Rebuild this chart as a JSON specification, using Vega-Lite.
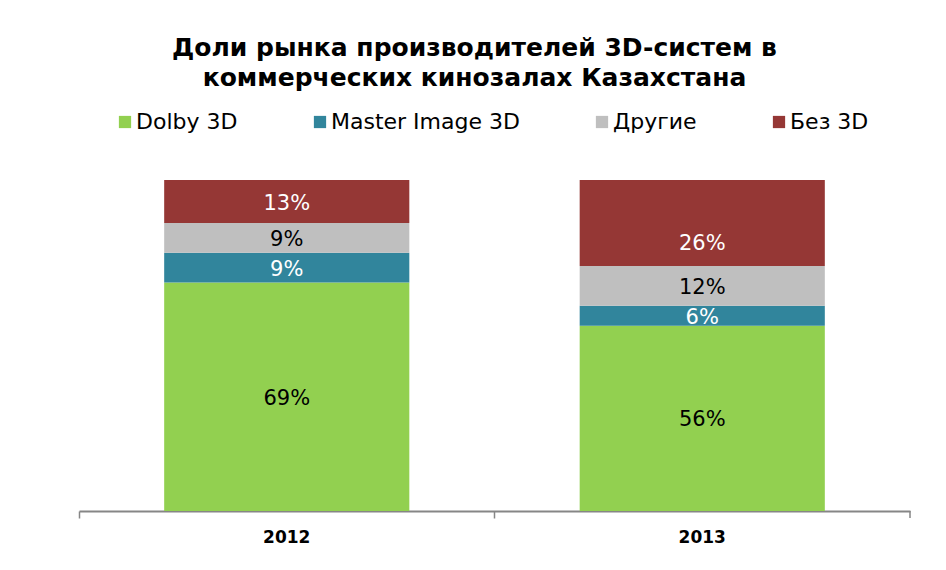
{
  "$schema": "https://vega.github.io/schema/vega-lite/v6.json",
  "width": 831,
  "height": 331,
  "autosize": {"type": "none"},
  "padding": {"left": 79, "top": 180, "right": 36, "bottom": 59},
  "background": "white",
  "title": {
    "text": ["Доли рынка производителей 3D-систем в", "коммерческих кинозалах Казахстана"],
    "font": "DejaVu Sans",
    "fontSize": 25,
    "fontWeight": "bold",
    "color": "black",
    "lineHeight": 30,
    "anchor": "middle",
    "dx": -20,
    "offset": 20
  },
  "data": {
    "values": [
      {"year": "2012", "series": "Dolby 3D", "value": 69, "ord": 1},
      {"year": "2012", "series": "Master Image 3D", "value": 9, "ord": 2},
      {"year": "2012", "series": "Другие", "value": 9, "ord": 3},
      {"year": "2012", "series": "Без 3D", "value": 13, "ord": 4},
      {"year": "2013", "series": "Dolby 3D", "value": 56, "ord": 1},
      {"year": "2013", "series": "Master Image 3D", "value": 6, "ord": 2},
      {"year": "2013", "series": "Другие", "value": 12, "ord": 3},
      {"year": "2013", "series": "Без 3D", "value": 26, "ord": 4}
    ]
  },
  "transform": [
    {"stack": "value", "groupby": ["year"], "sort": [{"field": "ord", "order": "ascending"}], "as": ["v0", "v1"]},
    {"calculate": "(datum.v0 + datum.v1) / 2", "as": "mid"},
    {"calculate": "datum.value + '%'", "as": "label"}
  ],
  "encoding": {
    "x": {
      "field": "year",
      "type": "nominal",
      "title": null,
      "scale": {"paddingInner": 0, "paddingOuter": 0},
      "axis": {
        "bandPosition": 0,
        "labelAngle": 0,
        "labelFont": "DejaVu Sans",
        "labelFontWeight": "bold",
        "labelFontSize": 17,
        "labelColor": "black",
        "labelPadding": 11,
        "domainColor": "#868686",
        "domainWidth": 2,
        "tickColor": "#868686",
        "tickWidth": 1.5,
        "tickSize": 7,
        "grid": false
      }
    }
  },
  "layer": [
    {
      "mark": {"type": "bar", "width": {"band": 0.59}},
      "encoding": {
        "y": {"field": "v0", "type": "quantitative", "scale": {"domain": [0, 100]}, "axis": null},
        "y2": {"field": "v1"},
        "color": {
          "field": "series",
          "type": "nominal",
          "scale": {
            "domain": ["Dolby 3D", "Master Image 3D", "Другие", "Без 3D"],
            "range": ["#92D050", "#31859C", "#BFBFBF", "#953735"]
          },
          "legend": {
            "title": null,
            "orient": "none",
            "direction": "horizontal",
            "legendX": 35,
            "legendY": -69,
            "symbolType": "square",
            "symbolSize": 150,
            "symbolStrokeWidth": 0,
            "symbolOpacity": 1,
            "labelFont": "DejaVu Sans",
            "labelFontSize": 22,
            "labelColor": "black",
            "labelLimit": 400,
            "labelOffset": 0,
            "columnPadding": 71
          }
        }
      }
    },
    {
      "transform": [{"filter": "!(datum.year === '2013' && datum.series === 'Без 3D')"}],
      "mark": {"type": "text", "font": "DejaVu Sans", "fontSize": 21, "baseline": "middle", "align": "center", "dy": 2},
      "encoding": {
        "y": {"field": "mid", "type": "quantitative", "scale": {"domain": [0, 100]}},
        "text": {"field": "label"},
        "color": {
          "condition": {"test": "datum.series === 'Dolby 3D' || datum.series === 'Другие'", "value": "black"},
          "value": "white"
        }
      }
    },
    {
      "transform": [{"filter": "datum.year === '2013' && datum.series === 'Без 3D'"}],
      "mark": {"type": "text", "font": "DejaVu Sans", "fontSize": 21, "baseline": "middle", "align": "center", "dy": 21, "color": "white"},
      "encoding": {
        "y": {"field": "mid", "type": "quantitative", "scale": {"domain": [0, 100]}},
        "text": {"field": "label"}
      }
    },
    {
      "transform": [{"filter": "datum.year === '2013' && datum.series === 'Без 3D'"}],
      "mark": {"type": "rule", "color": "#868686", "strokeWidth": 1.5},
      "encoding": {
        "x": {"datum": "2013", "type": "nominal", "bandPosition": 1},
        "y": {"datum": 0, "type": "quantitative"},
        "y2": {"datum": -2.1}
      }
    }
  ],
  "config": {
    "view": {"stroke": null}
  }
}
